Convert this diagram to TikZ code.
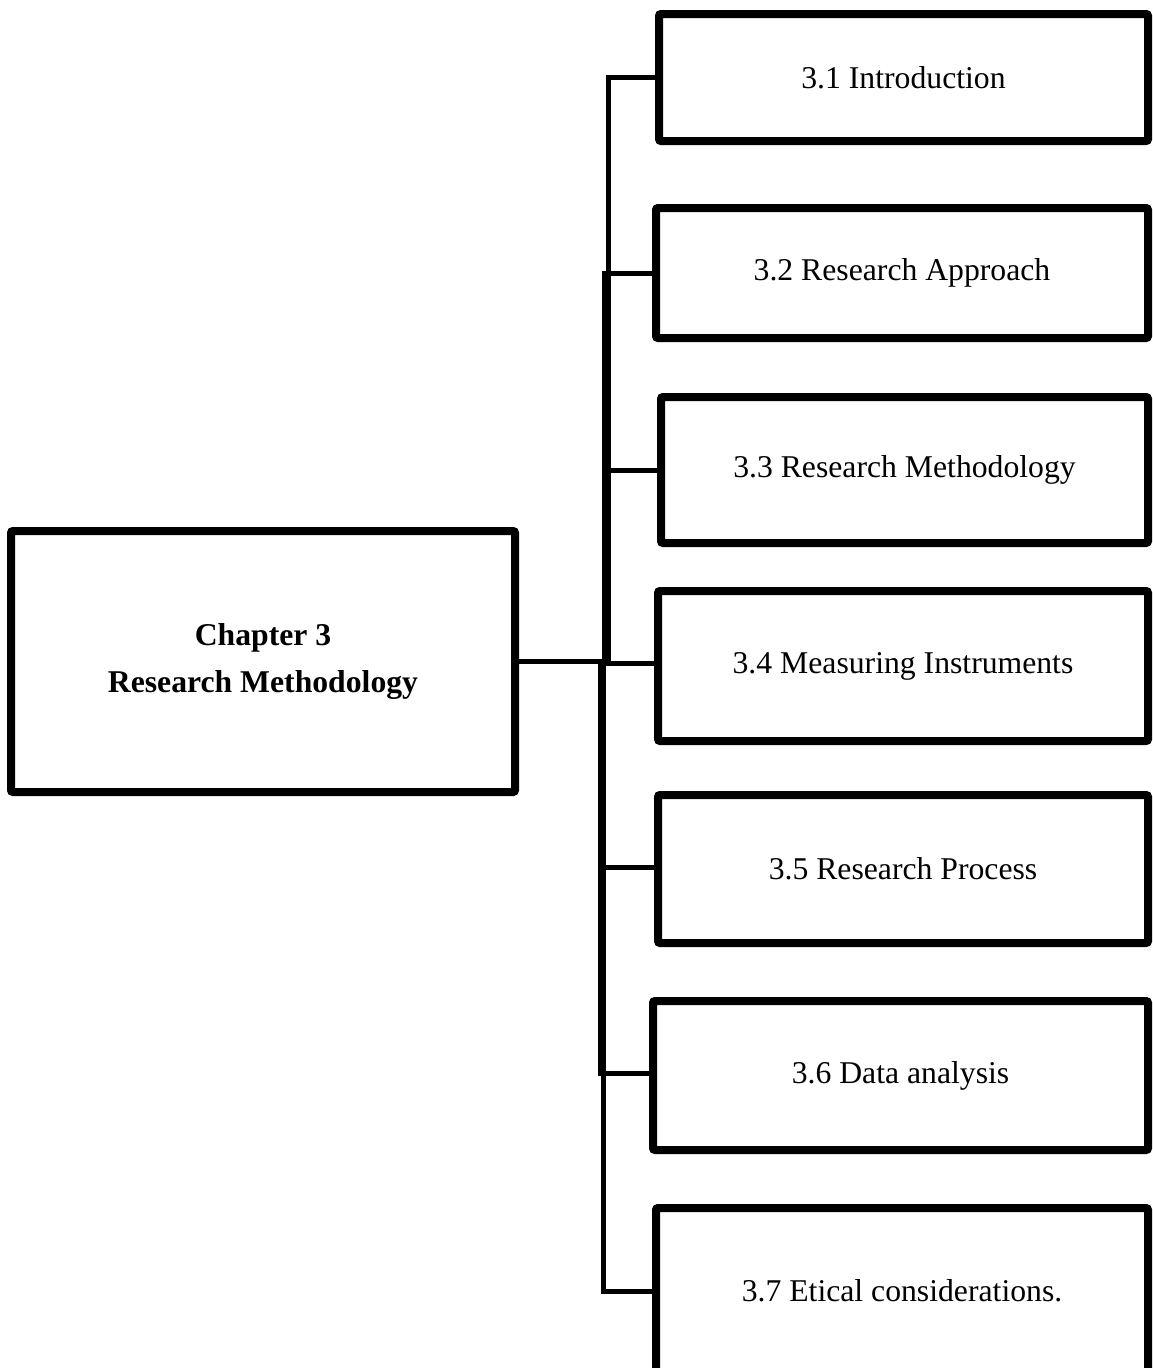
\documentclass[tikz,border=0pt]{standalone}
\usepackage{fontspec}
\setmainfont{Liberation Serif}
\begin{document}
\begin{tikzpicture}[x=1pt,y=-1pt,
  box/.style={draw,line width=8pt,rounded corners=2pt,fill=white,inner sep=0pt,
    align=center,font=\fontsize{31.7}{47}\selectfont},
  link/.style={line width=5pt,line join=miter}]
\useasboundingbox (0,0) rectangle (1153,1368);
% boxes
\node[box,minimum width=504pt,minimum height=261pt] (ch) at (263,661.5) {\textbf{Chapter 3}\\\textbf{Research Methodology}};
\node[box,minimum width=489pt,minimum height=127pt] (b1) at (903.5,77.5) {3.1 Introduction};
\node[box,minimum width=492pt,minimum height=130pt] (b2) at (902,273) {3.2 Research Approach};
\node[box,minimum width=487pt,minimum height=146pt] (b3) at (904.5,470) {3.3 Research Methodology};
\node[box,minimum width=490pt,minimum height=150pt] (b4) at (903,666) {3.4 Measuring Instruments};
\node[box,minimum width=490pt,minimum height=148pt] (b5) at (903,869) {3.5 Research Process};
\node[box,minimum width=495pt,minimum height=149pt] (b6) at (900.5,1075.5) {3.6 Data analysis};
\node[box,minimum width=492pt,minimum height=166pt] (b7) at (902,1291) {3.7 Etical considerations.};
% junction points on the trunk
\coordinate (j1) at (608,661.5);
\coordinate (j2) at (604,661.5);
\coordinate (j3) at (607,661.5);
\coordinate (j4) at (606,661.5);
\coordinate (j5) at (601,661.5);
\coordinate (j6) at (600,661.5);
\coordinate (j7) at (603,661.5);
% connectors
\draw[link] (ch.east) -- (j1) |- (b1.west);
\draw[link] (ch.east) -- (j2) |- (b2.west);
\draw[link] (ch.east) -- (j3) |- (b3.west);
\draw[link] (ch.east) -- (j4) |- ([yshift=3pt]b4.west);
\draw[link] (ch.east) -- (j5) |- ([yshift=2pt]b5.west);
\draw[link] (ch.east) -- (j6) |- ([yshift=2pt]b6.west);
\draw[link] (ch.east) -- (j7) |- (b7.west);
\end{tikzpicture}
\end{document}
